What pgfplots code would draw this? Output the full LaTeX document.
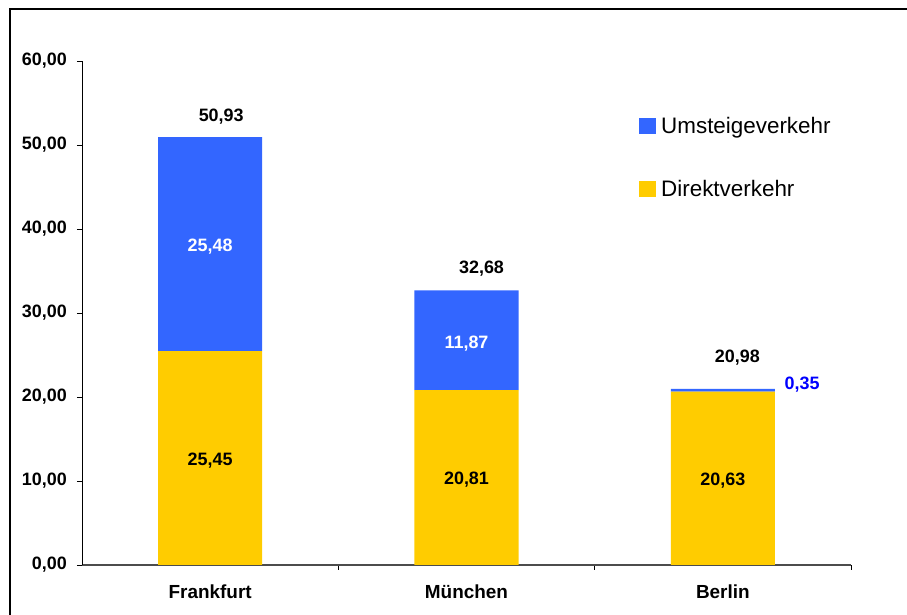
\documentclass[border=0pt]{standalone}
\usepackage{pgfplots}
\pgfplotsset{compat=1.18}
\usepackage{fontspec}
\setmainfont{Liberation Sans}
\definecolor{cblue}{RGB}{51,102,255}
\definecolor{cyel}{RGB}{255,204,0}
\definecolor{lblue}{RGB}{0,0,255}
\newcommand{\lab}{\bfseries\fontsize{18}{20}\selectfont}
\begin{document}
\begin{tikzpicture}[x=1bp,y=1bp]
\useasboundingbox (-82,-50) rectangle (825,565);
\draw[line width=2.5bp] (-72,-50) -- (-72,556) -- (825,556);
\begin{axis}[
  at={(0,0)}, anchor=south west,
  scale only axis, width=769bp, height=504bp,
  xmin=-0.5, xmax=2.5, ymin=0, ymax=60,
  ybar stacked, bar width=0.406,
  axis x line*=bottom, axis y line*=left,
  x axis line style={draw=black!70, line width=1.2bp},
  y axis line style={draw=black, line width=0.8bp},
  ytick={0,10,...,60},
  tick align=outside, major tick length=5bp,
  tick style={black, line width=0.8bp},
  yticklabel style={font=\lab, inner sep=0pt, xshift=-10bp,
    /pgf/number format/.cd, fixed, fixed zerofill, precision=2, use comma, assume math mode=true},
  xtick={0.5,1.5,2.5}, xticklabels={},
  extra x ticks={0,1,2},
  extra x tick labels={Frankfurt,München,Berlin},
  extra x tick style={major tick length=0pt, tick style={draw=none},
    xticklabel style={font=\bfseries\fontsize{19}{21}\selectfont, inner sep=0pt, yshift=-20bp}},
  legend style={at={(rel axis cs:0.7243,0.893)}, anchor=north west, draw=none, fill=none,
    inner sep=0pt, font=\fontsize{22.5}{25}\selectfont, row sep=41bp,
    /tikz/every odd column/.append style={column sep=3bp}},
  legend cell align=left,
  reverse legend,
  legend image code/.code={\fill[#1] (0bp,-8bp) rectangle (17bp,8bp);},
]
\addplot[fill=cyel, draw=none] coordinates {(0,25.45) (1,20.81) (2,20.63)};
\addplot[fill=cblue, draw=none] coordinates {(0,25.48) (1,11.87) (2,0.35)};
\legend{Direktverkehr, Umsteigeverkehr}
\coordinate (t1) at (axis cs:0.043,52.74);
\coordinate (t2) at (axis cs:1.0586,34.76);
\coordinate (t3) at (axis cs:2.0566,24.05);
\coordinate (b1) at (axis cs:0,37.38);
\coordinate (y1) at (axis cs:0,11.90);
\coordinate (b2) at (axis cs:1,25.83);
\coordinate (y2) at (axis cs:1,9.57);
\coordinate (y3) at (axis cs:2,9.49);
\coordinate (b3) at (axis cs:2.309,20.95);
\end{axis}
\begin{scope}[every node/.style={anchor=base, inner sep=0pt, font=\lab}]
\node at (t1) {50,93};
\node at (t2) {32,68};
\node at (t3) {20,98};
\node[white] at (b1) {25,48};
\node at (y1) {25,45};
\node[white] at (b2) {11,87};
\node at (y2) {20,81};
\node at (y3) {20,63};
\node[lblue] at (b3) {0,35};
\end{scope}
\end{tikzpicture}
\end{document}
